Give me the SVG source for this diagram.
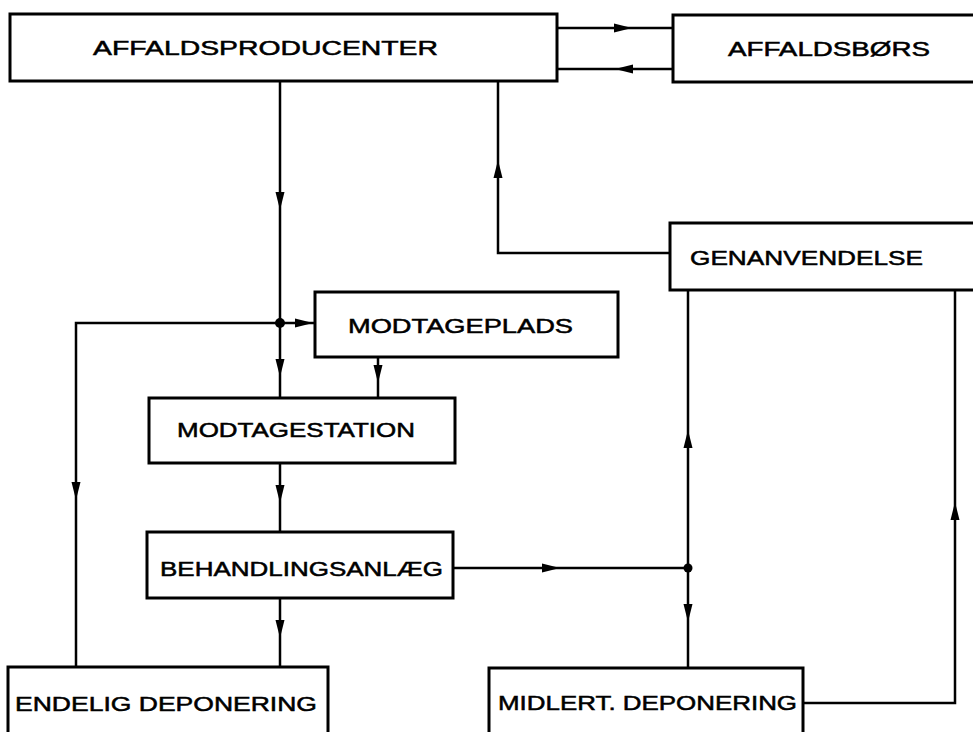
<svg xmlns="http://www.w3.org/2000/svg" xmlns:xlink="http://www.w3.org/1999/xlink" width="973" height="732" viewBox="0 0 973 732">
<style>
.box{fill:#fff;stroke:#000;stroke-width:3}
.ln{fill:none;stroke:#000;stroke-width:2.5}
.t{font-family:"Liberation Sans",Arial,sans-serif;font-size:20px;fill:#000;stroke:#000;stroke-width:0.5}
.ah{fill:#000}
</style>
<defs>
<path id="ar" d="M0,0 L-18,-4.5 L-18,4.5 Z"/>
</defs>
<rect width="973" height="732" fill="#fff"/>
<g id="connectors">
<path class="ln" d="M557,28 H673"/>
<path class="ln" d="M673,69 H557"/>
<path class="ln" d="M280,81 V398"/>
<path class="ln" d="M76,667 V323 H315"/>
<path class="ln" d="M378,357 V398"/>
<path class="ln" d="M280,463 V532"/>
<path class="ln" d="M280,598 V667"/>
<path class="ln" d="M453,568 H688"/>
<path class="ln" d="M688,290 V668"/>
<path class="ln" d="M670,253 H498 V81"/>
<path class="ln" d="M803,703 H955 V290"/>
<circle cx="280" cy="323" r="5" class="ah"/>
<circle cx="688" cy="568" r="4.5" class="ah"/>
<use xlink:href="#ar" class="ah" transform="translate(632,28)"/>
<use xlink:href="#ar" class="ah" transform="translate(615,69) rotate(180)"/>
<use xlink:href="#ar" class="ah" transform="translate(280,210) rotate(90)"/>
<use xlink:href="#ar" class="ah" transform="translate(313,323)"/>
<use xlink:href="#ar" class="ah" transform="translate(280,377) rotate(90)"/>
<use xlink:href="#ar" class="ah" transform="translate(378,383) rotate(90)"/>
<use xlink:href="#ar" class="ah" transform="translate(76,500) rotate(90)"/>
<use xlink:href="#ar" class="ah" transform="translate(280,503) rotate(90)"/>
<use xlink:href="#ar" class="ah" transform="translate(280,638) rotate(90)"/>
<use xlink:href="#ar" class="ah" transform="translate(560,568)"/>
<use xlink:href="#ar" class="ah" transform="translate(688,430) rotate(-90)"/>
<use xlink:href="#ar" class="ah" transform="translate(688,622) rotate(90)"/>
<use xlink:href="#ar" class="ah" transform="translate(498,160) rotate(-90)"/>
<use xlink:href="#ar" class="ah" transform="translate(955,502) rotate(-90)"/>
</g>
<g id="affaldsproducenter">
<rect class="box" x="10" y="14" width="547" height="67"/>
<text class="t" x="93" y="55" textLength="345" lengthAdjust="spacingAndGlyphs">AFFALDSPRODUCENTER</text>
</g>
<g id="affaldsboers">
<rect class="box" x="673" y="15" width="320" height="67"/>
<text class="t" x="728" y="56" textLength="202" lengthAdjust="spacingAndGlyphs">AFFALDSBØRS</text>
</g>
<g id="genanvendelse">
<rect class="box" x="670" y="223" width="320" height="67"/>
<text class="t" x="690" y="265" textLength="233" lengthAdjust="spacingAndGlyphs">GENANVENDELSE</text>
</g>
<g id="modtageplads">
<rect class="box" x="315" y="292" width="303" height="65"/>
<text class="t" x="348" y="333" textLength="225" lengthAdjust="spacingAndGlyphs">MODTAGEPLADS</text>
</g>
<g id="modtagestation">
<rect class="box" x="149" y="398" width="306" height="65"/>
<text class="t" x="177" y="437" textLength="238" lengthAdjust="spacingAndGlyphs">MODTAGESTATION</text>
</g>
<g id="behandlingsanlaeg">
<rect class="box" x="147" y="532" width="306" height="66"/>
<text class="t" x="160" y="576" textLength="283" lengthAdjust="spacingAndGlyphs">BEHANDLINGSANLÆG</text>
</g>
<g id="endelig-deponering">
<rect class="box" x="8" y="667" width="320" height="80"/>
<text class="t" x="15" y="711" textLength="302" lengthAdjust="spacingAndGlyphs">ENDELIG DEPONERING</text>
</g>
<g id="midlert-deponering">
<rect class="box" x="489" y="668" width="314" height="80"/>
<text class="t" x="498" y="710" textLength="299" lengthAdjust="spacingAndGlyphs">MIDLERT. DEPONERING</text>
</g>
</svg>
